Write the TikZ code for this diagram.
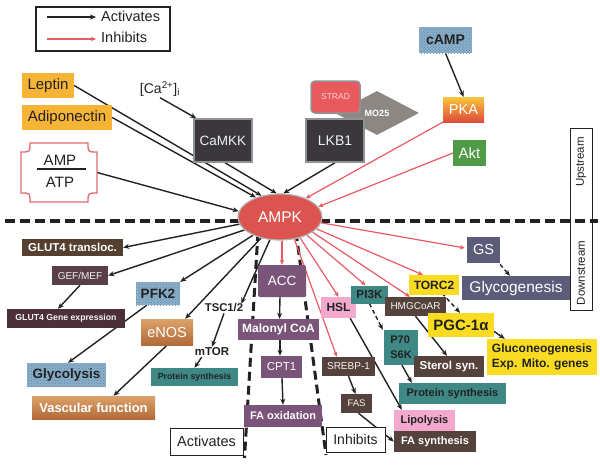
\documentclass[tikz,border=0pt]{standalone}
\usepackage{fontspec}
\setmainfont{Liberation Sans}
\usetikzlibrary{arrows.meta,shapes.geometric,calc,patterns}
\pgfdeclarelayer{background}
\pgfsetlayers{background,main}
\newcommand{\fsz}[1]{\fontsize{#1}{#1}\selectfont}
\definecolor{darkbox}{HTML}{3A383D}
\definecolor{grayb}{HTML}{8E9494}
\definecolor{stradred}{HTML}{E85A5E}
\definecolor{mogray}{HTML}{8C8782}
\definecolor{orangeL}{HTML}{F6B437}
\definecolor{blueT}{HTML}{8AAFC9}
\definecolor{blueD}{HTML}{5F87A6}
\definecolor{pkaTop}{HTML}{F8C63C}
\definecolor{pkaBot}{HTML}{DE4A3C}
\definecolor{aktG}{HTML}{4E9A47}
\definecolor{ampkR}{HTML}{DC5450}
\definecolor{brownD}{HTML}{55402F}
\definecolor{plumD}{HTML}{5A3F4B}
\definecolor{plumE}{HTML}{4C3039}
\definecolor{tanT}{HTML}{DCA26A}
\definecolor{tanB}{HTML}{B26A38}
\definecolor{tealP}{HTML}{3E8985}
\definecolor{purpM}{HTML}{7B5479}
\definecolor{pinkH}{HTML}{F2A9CD}
\definecolor{brownH}{HTML}{55423C}
\definecolor{yelT}{HTML}{F9DC22}
\definecolor{slateG}{HTML}{5C5B79}
\definecolor{redA}{HTML}{EA5A64}
\definecolor{inkD}{HTML}{222222}
\definecolor{ampB}{HTML}{E06A70}
\tikzset{
  bx/.style 2 args={minimum width=#1, minimum height=#2, inner sep=0pt, align=center},
  act/.style={draw=inkD, line width=1.4pt, -{Stealth[length=6pt,width=5pt]}},
  actd/.style={act, dash pattern=on 4pt off 3pt},
  inh/.style={draw=redA, line width=1.2pt, -{Stealth[length=5pt,width=4.5pt]}},
  bigdash/.style={draw=inkD, line width=3.5pt, dash pattern=on 10pt off 5pt},
  vdash/.style={draw=inkD, line width=3pt, dash pattern=on 9pt off 5pt},
  tex/.style={fill=blueT, postaction={pattern=crosshatch dots, pattern color=blueD}},
  tan/.style={top color=tanT, bottom color=tanB},
  wt/.style={text=white},
  dk/.style={text=inkD},
  lbl/.style={inner sep=1pt, text=inkD}
}
\begin{document}
\begin{tikzpicture}[x=1pt,y=-1pt]
\useasboundingbox (0,0) rectangle (600,475);

% legend
\node[draw=inkD, line width=1.2pt, minimum width=134, minimum height=44, inner sep=0] (legend) at (103,29) {};
\coordinate (la1) at (47,17); \coordinate (la2) at (96,17);
\coordinate (lb1) at (47,39); \coordinate (lb2) at (96,39);
\node[lbl, anchor=west, font=\fsz{14.5}] (legact) at (100,16) {Activates};
\node[lbl, anchor=west, font=\fsz{14.5}] (leginh) at (100,37) {Inhibits};

% upstream
\node[bx={52}{25}, fill=orangeL, dk, font=\fsz{15}] (leptin) at (48,85.5) {Leptin};
\node[bx={90}{25}, fill=orangeL, dk, font=\fsz{15}] (adipo) at (67,117.5) {Adiponectin};
\node[lbl, font=\fsz{14}] (ca) at (160,89) {[Ca\textsuperscript{2+}]\textsubscript{i}};
\node[diamond, aspect=1.9, minimum width=84, minimum height=44, inner sep=0, fill=mogray, wt, font=\bfseries\fsz{9}] (mo25) at (377,113) {MO25};
\node[bx={58}{43}, fill=darkbox, draw=grayb, line width=1.5pt, text=white!88!gray, font=\fsz{13.5}] (camkk) at (223,140.5) {CaMKK};
\node[bx={58}{43}, fill=darkbox, draw=grayb, line width=1.5pt, text=white!88!gray, font=\fsz{14}] (lkb1) at (335,140.5) {LKB1};
\node[bx={49}{32}, fill=stradred, draw=grayb, line width=1.5pt, rounded corners=4pt, text=pink!70!white, font=\fsz{8.5}] (strad) at (335.5,97) {STRAD};
\node[bx={53}{26}, tex, dk, font=\bfseries\fsz{14}] (camp) at (445.5,40) {cAMP};
\node[bx={41}{25}, top color=pkaTop, bottom color=pkaBot, wt, font=\fsz{14.5}] (pka) at (463.5,109.5) {PKA};
\node[bx={33}{26}, fill=aktG, wt, font=\fsz{15}] (akt) at (469.5,153) {Akt};

% AMP/ATP plaque
\draw[draw=ampB, line width=1.3pt] (30,143) -- (88,143) .. controls (88,152) .. (97,152) -- (97,193) .. controls (88,193) .. (88,202) -- (30,202) .. controls (30,193) .. (21,193) -- (21,152) .. controls (30,152) .. (30,143) -- cycle;
\node[bx={76}{59}] (ampatp) at (59,172.5) {};
\node[lbl, font=\fsz{15}] (ampt) at (60,160) {AMP};
\node[lbl, font=\fsz{15}] (atpt) at (60,182) {ATP};
\draw[inkD, line width=1.3pt] (37,169) -- (86,169);

% section boxes
\node[draw=inkD, line width=0.9pt, minimum width=22, minimum height=182, inner sep=0] (udbox) at (581,219) {};
\node[lbl, rotate=90, font=\fsz{11.5}] (upt) at (581,162) {Upstream};
\node[lbl, rotate=90, font=\fsz{11.5}] (downt) at (581,273) {Downstream};
\node[bx={73}{27}, draw=inkD, line width=1pt, fill=white, dk, font=\fsz{14.5}] (activ) at (206.5,441.5) {Activates};
\node[bx={59}{25}, draw=inkD, line width=1pt, fill=white, dk, font=\fsz{14}] (inhib) at (355.5,439.5) {Inhibits};

\node[ellipse, minimum width=84, minimum height=46, inner sep=0, fill=ampkR, draw=grayb!70, line width=1.2pt, wt, font=\fsz{15.5}] (ampk) at (280,217) {AMPK};

% downstream left
\node[bx={101}{17}, fill=brownD, wt, font=\bfseries\fsz{11.5}] (gluttrans) at (72.5,247.5) {GLUT4 transloc.};
\node[bx={56}{19}, fill=plumD, text=white!88!gray, font=\fsz{10}] (gefmef) at (80,275.5) {GEF/MEF};
\node[bx={118}{19}, fill=plumE, text=white!92!gray, font=\bfseries\fsz{8.7}] (glutgene) at (66,318.5) {GLUT4 Gene expression};
\node[bx={44}{23}, tex, dk, font=\bfseries\fsz{13.5}] (pfk2) at (158,293.5) {PFK2};
\node[lbl, font=\bfseries\fsz{11.3}] (tsc) at (224,308) {TSC1/2};
\node[bx={52}{26}, tan, wt, font=\fsz{14.5}] (enos) at (167,332) {eNOS};
\node[lbl, font=\bfseries\fsz{11.5}] (mtor) at (212,352) {mTOR};
\node[bx={87}{18}, fill=tealP, dk, font=\bfseries\fsz{8.8}] (protl) at (194.5,377) {Protein synthesis};
\node[bx={79}{24}, tex, dk, font=\bfseries\fsz{13.5}] (glyco) at (66.5,375) {Glycolysis};
\node[bx={123}{23}, tan, wt, font=\bfseries\fsz{13}] (vasc) at (93.5,407.5) {Vascular function};

% middle
\node[bx={48}{32}, fill=purpM, rounded corners=2pt, wt, font=\fsz{13.5}] (acc) at (282,281) {ACC};
\node[bx={81}{21}, fill=purpM, wt, font=\bfseries\fsz{12}] (malonyl) at (278.5,329.5) {Malonyl CoA};
\node[bx={41}{22}, fill=purpM, wt, font=\fsz{11.5}] (cpt1) at (281.5,367) {CPT1};
\node[bx={78}{22}, fill=purpM, wt, font=\bfseries\fsz{11}] (faox) at (283,416) {FA oxidation};

% downstream right
\node[bx={35}{21}, fill=pinkH, dk, font=\bfseries\fsz{12}] (hsl) at (338.5,307.5) {HSL};
\node[bx={37}{18}, fill=tealP, dk, font=\bfseries\fsz{11.7}] (pi3k) at (369.5,294.5) {PI3K};
\node[bx={61}{19}, fill=brownH, text=white!92!gray, font=\fsz{10}] (hmg) at (415.5,306.5) {HMGCoAR};
\node[bx={50}{20}, fill=yelT, dk, font=\bfseries\fsz{12}] (torc2) at (434,285) {TORC2};
\node[bx={33}{26}, fill=slateG, wt, font=\fsz{14.5}] (gs) at (483.5,250) {GS};
\node[bx={108}{24}, fill=slateG, wt, font=\fsz{15.5}] (glycogen) at (516,288) {Glycogenesis};
\node[bx={66}{24}, fill=yelT, dk, font=\bfseries\fsz{15}] (pgc) at (461,325) {PGC-1α};
\node[bx={110}{36}, fill=yelT, dk, align=left, font=\bfseries\fontsize{12}{15.5}\selectfont] (gluco) at (542,357) {Gluconeogenesis\\Exp. Mito. genes};
\node[bx={34}{35}, fill=tealP, dk, align=left, font=\bfseries\fontsize{11}{15}\selectfont] (p70) at (401,347.5) {P70\\S6K};
\node[bx={70}{21}, fill=brownH, wt, font=\bfseries\fsz{11.5}] (sterol) at (449,366.5) {Sterol syn.};
\node[bx={107}{21}, fill=tealP, dk, font=\bfseries\fsz{11}] (protr) at (452.5,393.5) {Protein synthesis};
\node[bx={53}{19}, fill=brownH, text=white!92!gray, font=\fsz{10}] (srebp) at (348.5,366.5) {SREBP-1};
\node[bx={31}{19}, fill=brownH, text=white!92!gray, font=\fsz{9.5}] (fas) at (356.5,403.5) {FAS};
\node[bx={61}{21}, fill=pinkH, dk, font=\bfseries\fsz{11}] (lipo) at (424.5,420.5) {Lipolysis};
\node[bx={82}{21}, fill=brownH, wt, font=\bfseries\fsz{11}] (fasyn) at (435,441.5) {FA synthesis};

\begin{pgfonlayer}{background}
\fill[white] (0,0) rectangle (600,475);
% dashed separators
\draw[bigdash] (5,221) -- (598,221);
\draw[vdash] (258,232) -- (244.5,458);
\draw[vdash] (296,232) -- (326,455);
% legend arrows
\draw[act] (la1) -- (la2);
\draw[inh] (lb1) -- (lb2);
% upstream activators
\draw[act] (leptin.east) -- (ampk.131);
\draw[act] (adipo.east) -- (ampk.141);
\draw[act] (ampatp.east) -- (ampk.172);
\draw[act] ($(camkk.south)+(2,0)$) -- (ampk.98);
\draw[act] (lkb1.south) -- (ampk.82);
\draw[act] (ca.south) -- ($(camkk.north west)+(3,0)$);
\draw[act] (camp.south) -- (pka.north);
% upstream inhibitors
\draw[inh] (pka.south west) -- (ampk.36);
\draw[inh] (akt.west) -- (ampk.15);
% downstream activated
\draw[act] (ampk.190) -- (gluttrans.east);
\draw[act] (ampk.200) -- (gefmef.east);
\draw[act] (ampk.214) -- (pfk2.north east);
\draw[act] (ampk.228) -- ($(enos.north east)+(-8,0)$);
\draw[act] (ampk.246) -- ($(tsc.north east)+(-3,1)$);
\draw[act] (gefmef.south) -- ($(glutgene.north)+(-8,0)$);
\draw[act] ($(pfk2.south west)+(11,0)$) -- ($(glyco.north)+(1.5,0)$);
\draw[act] (enos.south) -- ($(vasc.north)+(20,0)$);
\draw[act] (tsc.south) -- (mtor.north);
\draw[act] ($(mtor.south west)+(8,0)$) -- (protl.north);
% middle
\draw[inh] ($(ampk.south)+(2,0)$) -- (acc.north);
\draw[act] ($(acc.south)+(-2,0)$) -- ($(malonyl.north)+(1,0)$);
\draw[act] ($(malonyl.south)+(1.5,0)$) -- ($(cpt1.north)+(-1.5,0)$);
\draw[act] ($(cpt1.south)+(0.5,0)$) -- (faox.north);
% downstream inhibited
\draw[inh] (ampk.303) -- ($(srebp.north west)+(15,0)$);
\draw[inh] (ampk.314) -- (hsl.north);
\draw[inh] (ampk.326) -- ($(pi3k.north)+(-4,0)$);
\draw[inh] (ampk.335) -- ($(hmg.north west)+(25,0)$);
\draw[inh] (ampk.342) -- ($(torc2.north west)+(14,0)$);
\draw[inh] (ampk.352) -- ($(gs.west)+(-2,-2)$);
% downstream consequences
\draw[actd] ($(gs.south)+(12,-4)$) -- ($(glycogen.north)+(-6,0)$);
\draw[actd] ($(torc2.south)+(8,-2)$) -- ($(pgc.north)+(-1,0)$);
\draw[act] ($(pgc.east)+(-8,1)$) -- ($(gluco.north west)+(18,0)$);
\draw[act] (hmg.south) -- ($(sterol.north)+(-2,0)$);
\draw[actd] (pi3k.south) -- ($(p70.north west)+(-1,0)$);
\draw[act] ($(p70.south)+(1,0)$) -- ($(protr.north west)+(13,0)$);
\draw[act] ($(hsl.south east)+(-6,0)$) -- ($(lipo.north west)+(8,0)$);
\draw[act] (srebp.south) -- ($(fas.north)+(-1,0)$);
\draw[act] ($(fas.south)+(2,0)$) -- (fasyn.west);
\end{pgfonlayer}
\end{tikzpicture}
\end{document}
